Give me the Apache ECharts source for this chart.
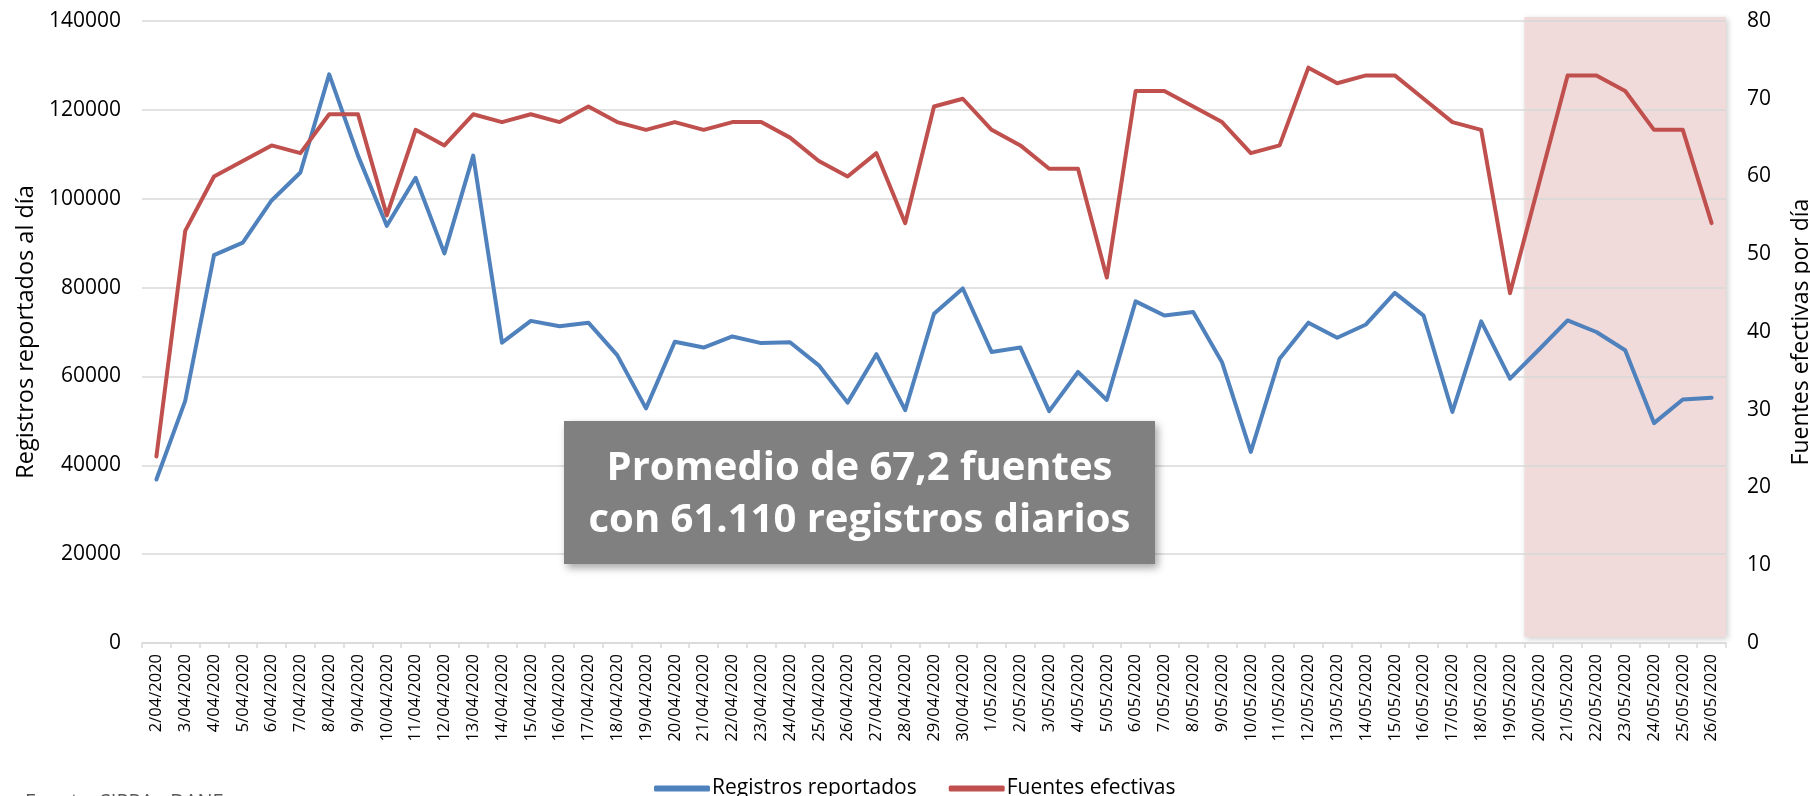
<!DOCTYPE html>
<html>
<head>
<meta charset="utf-8">
<script src="https://cdn.jsdelivr.net/npm/echarts@6.0.0/dist/echarts.min.js"></script>
<style>
  html, body { margin: 0; padding: 0; background: #fff; }
  #chart { width: 1810px; height: 796px; }
</style>
</head>
<body>
<div id="chart"></div>
<script>
const dates = [
  "2/04/2020", "3/04/2020", "4/04/2020", "5/04/2020", "6/04/2020", "7/04/2020", "8/04/2020",
  "9/04/2020", "10/04/2020", "11/04/2020", "12/04/2020", "13/04/2020", "14/04/2020", "15/04/2020",
  "16/04/2020", "17/04/2020", "18/04/2020", "19/04/2020", "20/04/2020", "21/04/2020", "22/04/2020",
  "23/04/2020", "24/04/2020", "25/04/2020", "26/04/2020", "27/04/2020", "28/04/2020", "29/04/2020",
  "30/04/2020", "1/05/2020", "2/05/2020", "3/05/2020", "4/05/2020", "5/05/2020", "6/05/2020",
  "7/05/2020", "8/05/2020", "9/05/2020", "10/05/2020", "11/05/2020", "12/05/2020", "13/05/2020",
  "14/05/2020", "15/05/2020", "16/05/2020", "17/05/2020", "18/05/2020", "19/05/2020", "20/05/2020",
  "21/05/2020", "22/05/2020", "23/05/2020", "24/05/2020", "25/05/2020", "26/05/2020"
];

// registros reportados al dia (eje izquierdo)
const registros = [
  36800, 54500, 87300, 90100, 99600, 105900, 128000,
  109700, 93900, 104700, 87700, 109700, 67600, 72500,
  71300, 72100, 64800, 52800, 67800, 66500, 69000,
  67500, 67700, 62500, 54100, 65000, 52400, 74100,
  79800, 65500, 66500, 52200, 61000, 54700, 76900,
  73700, 74500, 63200, 43000, 64000, 72100, 68700,
  71700, 78800, 73700, 52000, 72400, 59500, 66000,
  72600, 70000, 65900, 49500, 54800, 55200
];

// fuentes efectivas por dia (eje derecho)
const fuentes = [
  24, 53, 60, 62, 64, 63, 68,
  68, 55, 66, 64, 68, 67, 68,
  67, 69, 67, 66, 67, 66, 67,
  67, 65, 62, 60, 63, 54, 69,
  70, 66, 64, 61, 61, 47, 71,
  71, 69, 67, 63, 64, 74, 72,
  73, 73, 70, 67, 66, 45, 59,
  73, 73, 71, 66, 66, 54
];

const shadedFrom = "19/05/2020";
const boxText = ["Promedio de 67,2 fuentes", "con 61.110 registros diarios"];
const sourceText = "Fuente: SIPRA - DANE";

const font = "Open Sans";
const blue = "#4f81bd";
const red = "#c0504d";

const chart = echarts.init(document.getElementById("chart"));

let option = {
  animation: false,
  backgroundColor: "#fff",
  textStyle: { fontFamily: font },
  grid: { left: 142, right: 84, top: 21, bottom: 153, outerBoundsMode: "none" },
  legend: {
    left: 649,
    top: 773,
    icon: "roundRect",
    itemWidth: 56,
    itemHeight: 6,
    itemGap: 32,
    textStyle: { fontSize: 21, color: "#000", fontFamily: font, padding: [0, 0, 0, -3] },
    data: ["Registros reportados", "Fuentes efectivas"]
  },
  xAxis: [
    {
      type: "category",
      data: dates,
      boundaryGap: true,
      axisLine: { lineStyle: { color: "#d9d9d9", width: 1.5 } },
      axisTick: { show: true, interval: 0, length: 5, lineStyle: { color: "#d9d9d9", width: 1.5 } },
      axisLabel: {
        interval: 0,
        rotate: 90,
        margin: 11,
        fontSize: 16.5,
        color: "#000"
      }
    }
  ],
  yAxis: [
    {
      type: "value",
      min: 0,
      max: 140000,
      interval: 20000,
      name: "Registros reportados al día",
      nameLocation: "middle",
      nameGap: 97,
      nameTextStyle: { fontSize: 23.5, color: "#000" },
      axisLine: { show: false },
      axisTick: { show: false },
      axisLabel: { fontSize: 21, color: "#000", margin: 21, formatter: v => String(v) },
      splitLine: { lineStyle: { color: "#d9d9d9", width: 1.5 } }
    },
    {
      type: "value",
      min: 0,
      max: 80,
      interval: 10,
      name: "Fuentes efectivas por día",
      nameLocation: "middle",
      nameGap: 64,
      nameRotate: 90,
      nameTextStyle: { fontSize: 23, color: "#000" },
      axisLine: { show: false },
      axisTick: { show: false },
      axisLabel: { fontSize: 21, color: "#000", margin: 21 },
      splitLine: { show: false }
    }
  ],
  series: [
    {
      name: "Registros reportados",
      type: "line",
      yAxisIndex: 0,
      data: registros,
      showSymbol: false,
      color: blue,
      lineStyle: { width: 4, color: blue, cap: "round", join: "round" },
      z: 3
    },
    {
      name: "Fuentes efectivas",
      type: "line",
      yAxisIndex: 1,
      data: fuentes,
      showSymbol: false,
      color: red,
      lineStyle: { width: 4, color: red, cap: "round", join: "round" },
      z: 3
    }
  ]
};

chart.setOption(option);

// shaded band from between 19/05 and 20/05 to the end of the axis
function addOverlays() {
  const idx = dates.indexOf(shadedFrom);
  const xA = chart.convertToPixel({ xAxisIndex: 0 }, dates[idx]);
  const xB = chart.convertToPixel({ xAxisIndex: 0 }, dates[idx + 1]);
  const band = xB - xA;
  const xLast = chart.convertToPixel({ xAxisIndex: 0 }, dates[dates.length - 1]);
  const left = (xA + xB) / 2;
  const right = xLast + band / 2;
  const top = chart.convertToPixel({ yAxisIndex: 0 }, 140000) - 4;
  const bottom = chart.convertToPixel({ yAxisIndex: 0 }, 0) - 6;

  chart.setOption({
    graphic: [
      {
        type: "rect",
        z: -1,
        shape: { x: left, y: top, width: right - left, height: bottom - top },
        style: {
          fill: "#f0dada",
          shadowBlur: 6,
          shadowOffsetX: 2,
          shadowOffsetY: 2,
          shadowColor: "rgba(0,0,0,0.2)"
        }
      },
      {
        type: "rect",
        z: 100,
        shape: { x: 564, y: 421, width: 591, height: 143 },
        style: {
          fill: "#808080",
          shadowBlur: 8,
          shadowOffsetX: 3,
          shadowOffsetY: 4,
          shadowColor: "rgba(0,0,0,0.35)"
        }
      },
      {
        type: "text",
        z: 101,
        x: 859.5,
        y: 495,
        style: {
          text: boxText.join("\n"),
          fill: "#fff",
          font: "bold 40px 'Open Sans'",
          lineHeight: 52,
          align: "center",
          verticalAlign: "middle"
        }
      },
      {
        type: "text",
        z: 101,
        x: 25,
        y: 792,
        style: {
          text: sourceText,
          fill: "#595959",
          font: "20px 'Open Sans'",
          verticalAlign: "top"
        }
      }
    ]
  });
}

addOverlays();
</script>
</body>
</html>
